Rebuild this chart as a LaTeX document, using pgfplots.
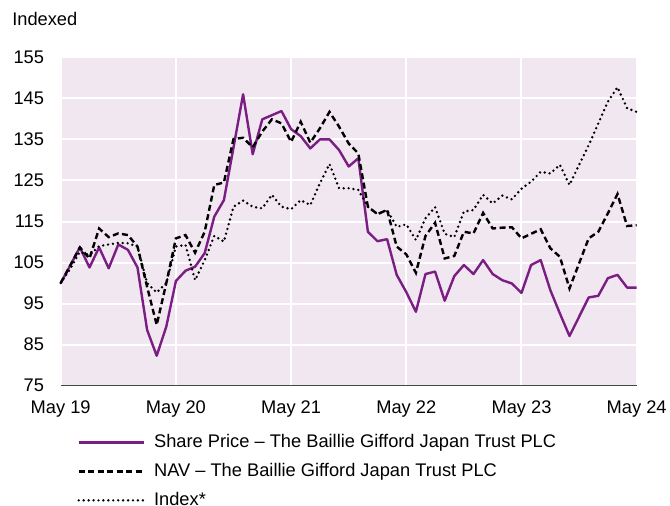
\documentclass[border=0pt]{standalone}
\usepackage{fontspec}
\setmainfont{Liberation Sans}
\usepackage{pgfplots}
\pgfplotsset{compat=1.18}
\definecolor{bgc}{RGB}{241,231,240}
\definecolor{spc}{RGB}{122,30,132}
\definecolor{axc}{RGB}{70,70,70}

\pgfplotstableread{
m sp nav idx
0 100 100 100
1 104.3 104.3 103.5
2 108.7 108.7 107.6
3 103.8 106 106.8
4 108.7 113.3 109
5 103.6 111.2 109.4
6 109.4 112.1 109.8
7 108.1 111.7 109.7
8 103.8 108.9 108.9
9 88.6 99.1 100
10 82.3 89.8 97.7
11 89.4 100 100
12 100.5 110.9 108.9
13 103 111.7 109.3
14 104 107.4 100.7
15 107.3 112.5 105.6
16 116.2 123.9 111.5
17 120.2 124.5 110.1
18 133 135.1 118.6
19 146 135.4 120.1
20 131.4 133.1 118.6
21 139.9 136.9 118.2
22 140.9 139.9 121.5
23 141.9 138.9 118.6
24 137.5 134.4 118
25 135.8 139.3 120.2
26 132.8 134.2 119
27 135 137.7 124.3
28 135 141.7 129
29 132.4 138.1 123.1
30 128.4 134 123.1
31 130.4 131.6 122.7
32 112.5 118.6 118.6
33 110.2 116.8 116.8
34 110.7 117.8 117.8
35 102 108.9 113.7
36 97.8 107 114.3
37 93 102.5 110.5
38 102.2 111.5 115.8
39 102.8 114.7 118.5
40 95.7 106 112
41 101.7 106.6 111.2
42 104.4 112.5 117.4
43 102.2 112.1 117.8
44 105.6 117.1 121.5
45 102.2 113.3 119.4
46 100.7 113.5 121.3
47 99.9 113.6 120.4
48 97.6 110.9 123
49 104.4 112 124.7
50 105.6 113.1 127.1
51 98.3 108.5 126.7
52 92.6 106.4 128.8
53 87.1 98.7 123.9
54 91.8 104.8 128.8
55 96.5 110.9 133.6
56 96.9 112.5 138.9
57 101.2 117 144.2
58 102 121.7 147.7
59 98.9 113.9 142.6
60 98.9 114.1 141.7
}\datatable

\begin{document}
\begin{tikzpicture}[font=\fontsize{13.7pt}{16pt}\selectfont]
\begin{axis}[
  at={(0,0)}, anchor=south west,
  scale only axis, width=432pt, height=246.3pt,
  xmin=0, xmax=60, ymin=75, ymax=155,
  xtick={0,12,24,36,48,60},
  xticklabels={May 19,May 20,May 21,May 22,May 23,May 24},
  ytick={75,85,...,155},
  axis lines*=left,
  y axis line style={draw=none},
  x axis line style={draw=axc, line width=1.1pt},
  tick style={draw=none},
  grid=major,
  major grid style={white, line width=1.5pt},
  axis background/.style={fill=bgc},
  xticklabel style={yshift=-8pt},
  yticklabel style={xshift=-9pt},
  /pgf/number format/assume math mode=true,
  clip=false,
  legend cell align=left,
  legend style={at={(0.029,-0.148)}, anchor=north west, draw=none, fill=none,
    inner sep=0pt, outer sep=0pt, row sep=11.8pt, column sep=6.75pt,
    nodes={inner sep=0pt, text height=9.9pt, text depth=0pt}},
  legend image code/.code={\draw[#1] (0pt,-1.2pt) -- (48.75pt,-1.2pt);},
]
\addplot[spc, line width=1.8pt, line join=round] table[x=m, y=sp] {\datatable};
\addlegendentry{Share Price – The Baillie Gifford Japan Trust PLC}
\addplot[black, line width=1.8pt, dash pattern=on 4.5pt off 2.6pt] table[x=m, y=nav] {\datatable};
\addlegendentry{NAV – The Baillie Gifford Japan Trust PLC}
\addplot[black, line width=2pt, line cap=round, dash pattern=on 0pt off 3.7pt] table[x=m, y=idx] {\datatable};
\addlegendentry{Index*}
\node[anchor=base west, inner sep=0pt] at ([xshift=-36.5pt, yshift=23.5pt]rel axis cs:0,1) {Indexed};
\end{axis}
\pgfresetboundingbox
\path (-45.525pt,-90.225pt) rectangle (456.975pt,289.275pt);
\end{tikzpicture}
\end{document}
